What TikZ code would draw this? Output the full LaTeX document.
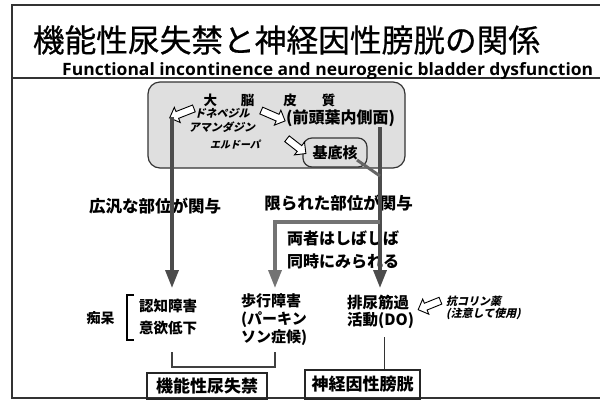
\documentclass[tikz,border=0pt]{standalone}
\usepackage{fontspec}
\setmainfont{Noto Sans CJK JP}
\newfontfamily\jpit[FakeSlant=0.22]{Noto Sans CJK JP}
\newfontfamily\titlefont[FakeBold=0.6]{Noto Sans CJK JP}
\newfontfamily\subfont{Open Sans}
\usetikzlibrary{arrows.meta,shapes.arrows}
\begin{document}
\begin{tikzpicture}[x=1pt,y=-1pt,
  frame/.style={draw=black!80,line width=1.4pt},
  lbl/.style={inner sep=0pt,font=\bfseries},
  bigarr/.style={draw=black!70,line width=3.5pt,-{Triangle[width=13pt,length=18pt]}},
  thickline/.style={draw=black!70,line width=3pt},
  hollow/.style={single arrow,draw=black,fill=white,line width=0.9pt,inner xsep=0pt,inner ysep=3.2pt,
    single arrow head extend=4.5pt,minimum height=26pt},
  graybox/.style={draw=black!80,line width=1.2pt,fill=gray!25},
  labelbox/.style={draw=black!85,line width=1.3pt,inner sep=0pt,font=\bfseries\fontsize{17}{20}\selectfont}
]
\useasboundingbox (0,0) rectangle (600,400);
% frame
\coordinate (tl) at (12,5);
\coordinate (tr) at (600,5);
\coordinate (ml) at (12,78);
\coordinate (mr) at (600,78);
\coordinate (bl) at (12,398);
\coordinate (br) at (600,398);
\draw[frame] (tr) -- (tl) -- (bl) -- (br);
\draw[frame] (ml) -- (mr);
% title
\node[inner sep=0pt,font=\titlefont\fontsize{31.7}{34}\selectfont] (title) at (286.5,40) {機能性尿失禁と神経因性膀胱の関係};
\node[inner sep=0pt,anchor=base west] (subtitle) at (62,75)
  {\resizebox{531pt}{13pt}{\subfont\bfseries Functional incontinence and neurogenic bladder dysfunction}};
% cortex box
\node[graybox,rounded corners=12pt,minimum width=257pt,minimum height=86pt] (brain) at (276.5,125) {};
\node[lbl,font=\bfseries\fontsize{13.5}{15}\selectfont] (cortex) at (269.5,100)
  {大\hspace{24pt}脳\hspace{29pt}皮\hspace{25pt}質};
\node[lbl,align=center,font=\jpit\bfseries\fontsize{11}{14}\selectfont] (donep) at (222,120) {ドネペジル\\アマンダジン};
\node[lbl,font=\bfseries\fontsize{16}{18}\selectfont] (frontal) at (340.5,118.5) {(前頭葉内側面)};
\node[lbl,font=\jpit\bfseries\fontsize{10}{11}\selectfont] (ldopa) at (235,145) {エルドーパ};
\node[graybox,rounded corners=9pt,minimum width=64pt,minimum height=29pt,inner sep=0pt,
  font=\bfseries\fontsize{15}{17}\selectfont] (basal) at (335,152.5) {基底核};
\node[hollow,rotate=201.4] (arrL) at (183.5,112.5) {};
\node[hollow,rotate=-23.5] (arrR) at (271.5,115) {};
\node[hollow,rotate=-38,minimum height=24pt] (arrE) at (295,145) {};
% middle labels
\node[lbl,font=\bfseries\fontsize{16.5}{18}\selectfont] (wide) at (155,206) {広汎な部位が関与};
\node[lbl,font=\bfseries\fontsize{16.5}{18}\selectfont] (limited) at (338.5,203) {限られた部位が関与};
\node[lbl,align=left,font=\bfseries\fontsize{16}{23}\selectfont] (both) at (343,250) {両者はしばしば\\同時にみられる};
% arrows
\coordinate (la) at (172,117);
\coordinate (lb) at (172,288);
\coordinate (ra) at (380,127);
\coordinate (rb) at (380,288);
\coordinate (rj) at (380,222);
\coordinate (mj) at (275,222);
\coordinate (mb) at (275,288);
\coordinate (bd) at (357,160);
\coordinate (bj) at (380,176);
\draw[bigarr] (la) -- (lb);
\draw[bigarr] (ra) -- (rb);
\draw[bigarr,draw=black!55] (rj) -- (mj) -- (mb);
\draw[thickline,draw=black!60] (bd) -- (bj);
% bottom labels
\node[lbl,font=\bfseries\fontsize{14}{15}\selectfont] (dementia) at (100.5,318) {痴呆};
\coordinate (bra) at (134,295);
\coordinate (brb) at (127,295);
\coordinate (brc) at (127,340);
\coordinate (brd) at (134,340);
\draw[draw=black,line width=1.3pt] (bra) -- (brb) -- (brc) -- (brd);
\node[lbl,align=left,font=\bfseries\fontsize{14.5}{22}\selectfont] (cog) at (168,317) {認知障害\\意欲低下};
\node[lbl,align=left,anchor=west,font=\bfseries\fontsize{15}{18}\selectfont] (gait) at (241,320) {歩行障害\\(パーキン\\ソン症候)};
\node[lbl,align=left,anchor=west,font=\bfseries\fontsize{15.5}{17}\selectfont] (do) at (347,311.5) {排尿筋過\\活動(DO)};
\node[lbl,align=left,anchor=west,font=\jpit\bfseries\fontsize{11}{12}\selectfont] (anticho) at (446,307.5) {抗コリン薬\\(注意して使用)};
\node[hollow,rotate=202,minimum height=24pt] (arrA) at (431,304.5) {};
% bracket connecting to functional incontinence
\coordinate (ka) at (172,352);
\coordinate (kb) at (172,367);
\coordinate (kc) at (275,367);
\coordinate (kd) at (275,352);
\draw[draw=black!75,line width=2.8pt] (ka) -- (kb) -- (kc) -- (kd);
\coordinate (da) at (383,337);
\coordinate (db) at (383,370);
\draw[draw=black!80,double=white,double distance=1.2pt,line width=0.9pt] (da) -- (db);
% bottom boxes
\node[labelbox,minimum width=120pt,minimum height=26pt] (fui) at (207,386) {機能性尿失禁};
\node[labelbox,minimum width=115pt,minimum height=29pt] (nb) at (362.5,384.5) {神経因性膀胱};
\end{tikzpicture}
\end{document}
